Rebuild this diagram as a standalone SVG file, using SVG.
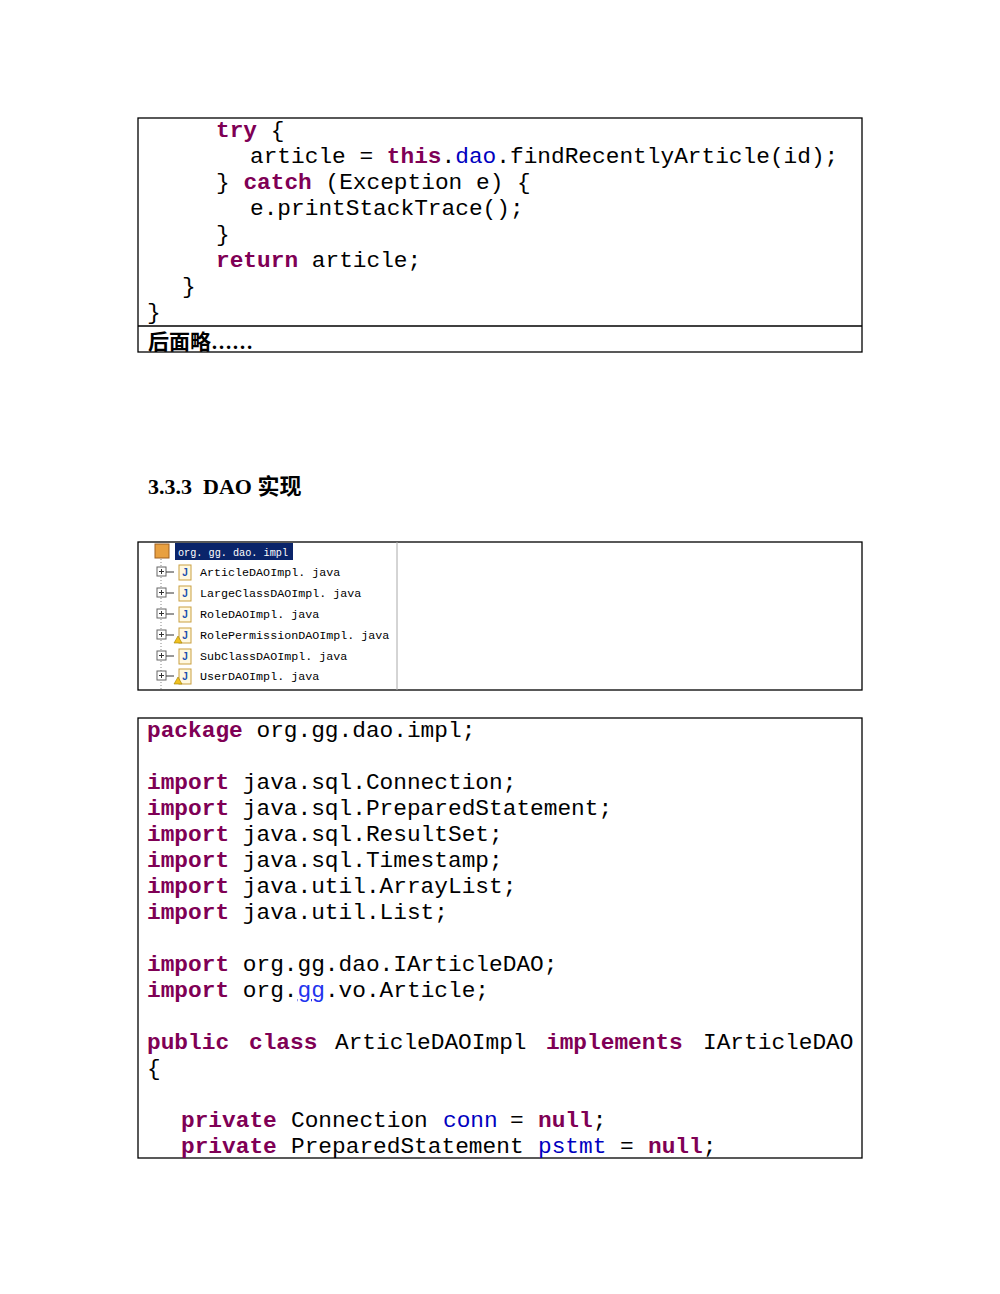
<svg xmlns="http://www.w3.org/2000/svg" width="1000" height="1294" viewBox="0 0 1000 1294">
<style>
.c{font-family:"Liberation Mono","DejaVu Sans Mono",monospace;font-size:22.8px;fill:#000;white-space:pre}
.k{fill:#7f0055;font-weight:bold}
.f{fill:#0000c0}
.box{fill:#fff;stroke:#000;stroke-width:1.3}
.t{font-family:"Liberation Mono","DejaVu Sans Mono",monospace;font-size:11.7px;fill:#000;white-space:pre}
.h{font-family:"Liberation Serif","Noto Sans CJK SC",serif;font-weight:bold;fill:#000;white-space:pre}
</style>
<rect width="1000" height="1294" fill="#fff"/>
<g id="code1">
<rect class="box" x="138" y="118" width="724" height="234"/>
<line x1="138" y1="326" x2="862" y2="326" stroke="#000" stroke-width="1.3"/>
<text class="c" x="216" y="137"><tspan class="k">try</tspan> {</text>
<text class="c" x="250" y="163">article = <tspan class="k">this</tspan>.<tspan class="f">dao</tspan>.findRecentlyArticle(id);</text>
<text class="c" x="216" y="189">} <tspan class="k">catch</tspan> (Exception e) {</text>
<text class="c" x="250" y="215">e.printStackTrace();</text>
<text class="c" x="216" y="241">}</text>
<text class="c" x="216" y="267"><tspan class="k">return</tspan> article;</text>
<text class="c" x="182" y="293">}</text>
<text class="c" x="147" y="319">}</text>
<text class="h" x="148" y="349" font-size="21">后面略……</text>
</g>
<text class="h" x="148" y="494" font-size="22">3.3.3  DAO 实现</text>
<g id="tree">
<rect class="box" x="138" y="542" width="724" height="148"/>
<line x1="397" y1="542" x2="397" y2="690" stroke="#aaa" stroke-width="1"/>
<line x1="161" y1="556" x2="161" y2="690" stroke="#888" stroke-dasharray="1,2"/>
<rect x="155" y="544" width="14" height="14" fill="#e8a040" stroke="#a06020"/>
<rect x="175" y="543" width="118" height="17" fill="#0a246a"/>
<text class="t" x="178" y="556" textLength="110" lengthAdjust="spacingAndGlyphs" style="fill:#fff">org. gg. dao. impl</text>
<g id="rows">
<g transform="translate(0,572)"><rect x="157" y="-5" width="9" height="9" fill="#fff" stroke="#666"/><path d="M159 -0.5h5M161.5 -3v5M166 0h8" stroke="#333"/><rect x="179" y="-7" width="12" height="15" fill="#fff8e0" stroke="#c9a040"/><text x="185" y="4" font-family="Liberation Sans,sans-serif" font-size="10" font-weight="bold" fill="#2050b0" text-anchor="middle">J</text><text class="t" x="200" y="4">ArticleDAOImpl. java</text></g>
<g transform="translate(0,593)"><rect x="157" y="-5" width="9" height="9" fill="#fff" stroke="#666"/><path d="M159 -0.5h5M161.5 -3v5M166 0h8" stroke="#333"/><rect x="179" y="-7" width="12" height="15" fill="#fff8e0" stroke="#c9a040"/><text x="185" y="4" font-family="Liberation Sans,sans-serif" font-size="10" font-weight="bold" fill="#2050b0" text-anchor="middle">J</text><text class="t" x="200" y="4">LargeClassDAOImpl. java</text></g>
<g transform="translate(0,614)"><rect x="157" y="-5" width="9" height="9" fill="#fff" stroke="#666"/><path d="M159 -0.5h5M161.5 -3v5M166 0h8" stroke="#333"/><rect x="179" y="-7" width="12" height="15" fill="#fff8e0" stroke="#c9a040"/><text x="185" y="4" font-family="Liberation Sans,sans-serif" font-size="10" font-weight="bold" fill="#2050b0" text-anchor="middle">J</text><text class="t" x="200" y="4">RoleDAOImpl. java</text></g>
<g transform="translate(0,635)"><rect x="157" y="-5" width="9" height="9" fill="#fff" stroke="#666"/><path d="M159 -0.5h5M161.5 -3v5M166 0h8" stroke="#333"/><rect x="179" y="-7" width="12" height="15" fill="#fff8e0" stroke="#c9a040"/><text x="185" y="4" font-family="Liberation Sans,sans-serif" font-size="10" font-weight="bold" fill="#2050b0" text-anchor="middle">J</text><path d="M178 1l-4 7h8z" fill="#f0c020" stroke="#a08000" stroke-width="0.6"/><text class="t" x="200" y="4">RolePermissionDAOImpl. java</text></g>
<g transform="translate(0,656)"><rect x="157" y="-5" width="9" height="9" fill="#fff" stroke="#666"/><path d="M159 -0.5h5M161.5 -3v5M166 0h8" stroke="#333"/><rect x="179" y="-7" width="12" height="15" fill="#fff8e0" stroke="#c9a040"/><text x="185" y="4" font-family="Liberation Sans,sans-serif" font-size="10" font-weight="bold" fill="#2050b0" text-anchor="middle">J</text><text class="t" x="200" y="4">SubClassDAOImpl. java</text></g>
<g transform="translate(0,676)"><rect x="157" y="-5" width="9" height="9" fill="#fff" stroke="#666"/><path d="M159 -0.5h5M161.5 -3v5M166 0h8" stroke="#333"/><rect x="179" y="-7" width="12" height="15" fill="#fff8e0" stroke="#c9a040"/><text x="185" y="4" font-family="Liberation Sans,sans-serif" font-size="10" font-weight="bold" fill="#2050b0" text-anchor="middle">J</text><path d="M178 1l-4 7h8z" fill="#f0c020" stroke="#a08000" stroke-width="0.6"/><text class="t" x="200" y="4">UserDAOImpl. java</text></g>
</g>
</g>
<g id="code2">
<rect class="box" x="138" y="718" width="724" height="440"/>
<text class="c" x="147" y="737"><tspan class="k">package</tspan> org.gg.dao.impl;</text>
<text class="c" x="147" y="789"><tspan class="k">import</tspan> java.sql.Connection;</text>
<text class="c" x="147" y="815"><tspan class="k">import</tspan> java.sql.PreparedStatement;</text>
<text class="c" x="147" y="841"><tspan class="k">import</tspan> java.sql.ResultSet;</text>
<text class="c" x="147" y="867"><tspan class="k">import</tspan> java.sql.Timestamp;</text>
<text class="c" x="147" y="893"><tspan class="k">import</tspan> java.util.ArrayList;</text>
<text class="c" x="147" y="919"><tspan class="k">import</tspan> java.util.List;</text>
<text class="c" x="147" y="971"><tspan class="k">import</tspan> org.gg.dao.IArticleDAO;</text>
<text class="c" x="147" y="997"><tspan class="k">import</tspan> org.<tspan fill="#2233ee" text-decoration="underline">gg</tspan>.vo.Article;</text>
<text class="c" y="1049"><tspan class="k" x="147">public</tspan><tspan class="k" x="249">class</tspan><tspan x="335">ArticleDAOImpl</tspan><tspan class="k" x="546">implements</tspan><tspan x="703">IArticleDAO</tspan></text>
<text class="c" x="147" y="1075">{</text>
<text class="c" y="1127"><tspan class="k" x="181">private</tspan><tspan x="291">Connection</tspan><tspan class="f" x="443">conn</tspan><tspan x="510">=</tspan><tspan class="k" x="538">null</tspan>;</text>
<text class="c" y="1153"><tspan class="k" x="181">private</tspan><tspan x="291">PreparedStatement</tspan><tspan class="f" x="538">pstmt</tspan><tspan x="620">=</tspan><tspan class="k" x="648">null</tspan>;</text>
</g>
</svg>
